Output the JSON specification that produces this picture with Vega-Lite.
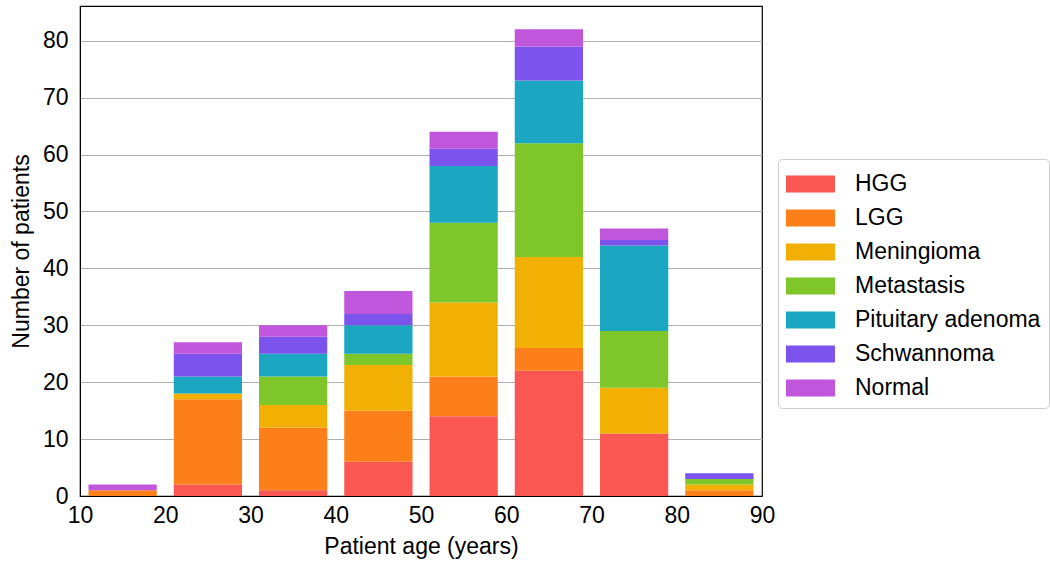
{
  "$schema": "https://vega.github.io/schema/vega-lite/v6.json",
  "width": 682,
  "height": 490,
  "autosize": {"type": "none"},
  "padding": {"left": 80, "top": 6, "right": 288, "bottom": 65},
  "background": "white",
  "config": {
    "font": "Liberation Sans",
    "view": {"stroke": "black", "strokeWidth": 1.2},
    "axis": {
      "labelFont": "Liberation Sans",
      "titleFont": "Liberation Sans",
      "labelFontSize": 23,
      "titleFontSize": 23,
      "titleFontWeight": "normal",
      "labelColor": "black",
      "titleColor": "black",
      "domainColor": "black",
      "ticks": false,
      "gridColor": "#b0b0b0",
      "gridWidth": 1,
      "gridOpacity": 1
    },
    "legend": {
      "labelFont": "Liberation Sans",
      "labelFontSize": 23,
      "labelColor": "black"
    }
  },
  "data": {
    "values": [
      {"age": 10, "age_end": 20, "type": "HGG", "count": 0},
      {"age": 10, "age_end": 20, "type": "LGG", "count": 1},
      {"age": 10, "age_end": 20, "type": "Meningioma", "count": 0},
      {"age": 10, "age_end": 20, "type": "Metastasis", "count": 0},
      {"age": 10, "age_end": 20, "type": "Pituitary adenoma", "count": 0},
      {"age": 10, "age_end": 20, "type": "Schwannoma", "count": 0},
      {"age": 10, "age_end": 20, "type": "Normal", "count": 1},
      {"age": 20, "age_end": 30, "type": "HGG", "count": 2},
      {"age": 20, "age_end": 30, "type": "LGG", "count": 15},
      {"age": 20, "age_end": 30, "type": "Meningioma", "count": 1},
      {"age": 20, "age_end": 30, "type": "Metastasis", "count": 0},
      {"age": 20, "age_end": 30, "type": "Pituitary adenoma", "count": 3},
      {"age": 20, "age_end": 30, "type": "Schwannoma", "count": 4},
      {"age": 20, "age_end": 30, "type": "Normal", "count": 2},
      {"age": 30, "age_end": 40, "type": "HGG", "count": 1},
      {"age": 30, "age_end": 40, "type": "LGG", "count": 11},
      {"age": 30, "age_end": 40, "type": "Meningioma", "count": 4},
      {"age": 30, "age_end": 40, "type": "Metastasis", "count": 5},
      {"age": 30, "age_end": 40, "type": "Pituitary adenoma", "count": 4},
      {"age": 30, "age_end": 40, "type": "Schwannoma", "count": 3},
      {"age": 30, "age_end": 40, "type": "Normal", "count": 2},
      {"age": 40, "age_end": 50, "type": "HGG", "count": 6},
      {"age": 40, "age_end": 50, "type": "LGG", "count": 9},
      {"age": 40, "age_end": 50, "type": "Meningioma", "count": 8},
      {"age": 40, "age_end": 50, "type": "Metastasis", "count": 2},
      {"age": 40, "age_end": 50, "type": "Pituitary adenoma", "count": 5},
      {"age": 40, "age_end": 50, "type": "Schwannoma", "count": 2},
      {"age": 40, "age_end": 50, "type": "Normal", "count": 4},
      {"age": 50, "age_end": 60, "type": "HGG", "count": 14},
      {"age": 50, "age_end": 60, "type": "LGG", "count": 7},
      {"age": 50, "age_end": 60, "type": "Meningioma", "count": 13},
      {"age": 50, "age_end": 60, "type": "Metastasis", "count": 14},
      {"age": 50, "age_end": 60, "type": "Pituitary adenoma", "count": 10},
      {"age": 50, "age_end": 60, "type": "Schwannoma", "count": 3},
      {"age": 50, "age_end": 60, "type": "Normal", "count": 3},
      {"age": 60, "age_end": 70, "type": "HGG", "count": 22},
      {"age": 60, "age_end": 70, "type": "LGG", "count": 4},
      {"age": 60, "age_end": 70, "type": "Meningioma", "count": 16},
      {"age": 60, "age_end": 70, "type": "Metastasis", "count": 20},
      {"age": 60, "age_end": 70, "type": "Pituitary adenoma", "count": 11},
      {"age": 60, "age_end": 70, "type": "Schwannoma", "count": 6},
      {"age": 60, "age_end": 70, "type": "Normal", "count": 3},
      {"age": 70, "age_end": 80, "type": "HGG", "count": 11},
      {"age": 70, "age_end": 80, "type": "LGG", "count": 0},
      {"age": 70, "age_end": 80, "type": "Meningioma", "count": 8},
      {"age": 70, "age_end": 80, "type": "Metastasis", "count": 10},
      {"age": 70, "age_end": 80, "type": "Pituitary adenoma", "count": 15},
      {"age": 70, "age_end": 80, "type": "Schwannoma", "count": 1},
      {"age": 70, "age_end": 80, "type": "Normal", "count": 2},
      {"age": 80, "age_end": 90, "type": "HGG", "count": 0},
      {"age": 80, "age_end": 90, "type": "LGG", "count": 1},
      {"age": 80, "age_end": 90, "type": "Meningioma", "count": 1},
      {"age": 80, "age_end": 90, "type": "Metastasis", "count": 1},
      {"age": 80, "age_end": 90, "type": "Pituitary adenoma", "count": 0},
      {"age": 80, "age_end": 90, "type": "Schwannoma", "count": 1},
      {"age": 80, "age_end": 90, "type": "Normal", "count": 0}
    ]
  },
  "transform": [
    {"calculate": "indexof(['HGG','LGG','Meningioma','Metastasis','Pituitary adenoma','Schwannoma','Normal'], datum.type)", "as": "rank"},
    {"stack": "count", "groupby": ["age"], "sort": [{"field": "rank", "order": "ascending"}], "as": ["y0", "y1"]}
  ],
  "mark": {"type": "bar", "xOffset": 8.5, "x2Offset": -8.5, "strokeWidth": 0},
  "encoding": {
    "x": {
      "field": "age",
      "type": "quantitative",
      "scale": {"domain": [10, 90], "nice": false, "zero": false},
      "axis": {"values": [10, 20, 30, 40, 50, 60, 70, 80, 90], "grid": false, "labelPadding": 8, "title": "Patient age (years)", "titlePadding": 8, "labelFlush": false}
    },
    "x2": {"field": "age_end"},
    "y": {
      "field": "y1",
      "type": "quantitative",
      "scale": {"domain": [0, 86.1], "nice": false},
      "axis": {"values": [0, 10, 20, 30, 40, 50, 60, 70, 80], "labelPadding": 12, "title": "Number of patients", "titlePadding": 9}
    },
    "y2": {"field": "y0"},
    "color": {
      "field": "type",
      "type": "nominal",
      "scale": {
        "domain": ["HGG", "LGG", "Meningioma", "Metastasis", "Pituitary adenoma", "Schwannoma", "Normal"],
        "range": ["#FA5652", "#FD7F19", "#F2B005", "#7FC62A", "#1BA7C2", "#7D53EE", "#C056DC"]
      },
      "legend": {
        "title": null,
        "orient": "none",
        "legendX": 698,
        "legendY": 153,
        "symbolType": "M-1,-0.5H1.882V0.5H-1Z",
        "symbolSize": 1156,
        "symbolStrokeWidth": 0,
        "symbolOpacity": 1,
        "labelOffset": 35,
        "labelLimit": 400,
        "padding": 8,
        "strokeColor": "#cccccc",
        "fillColor": "white",
        "cornerRadius": 4,
        "rowPadding": 5
      }
    }
  }
}
